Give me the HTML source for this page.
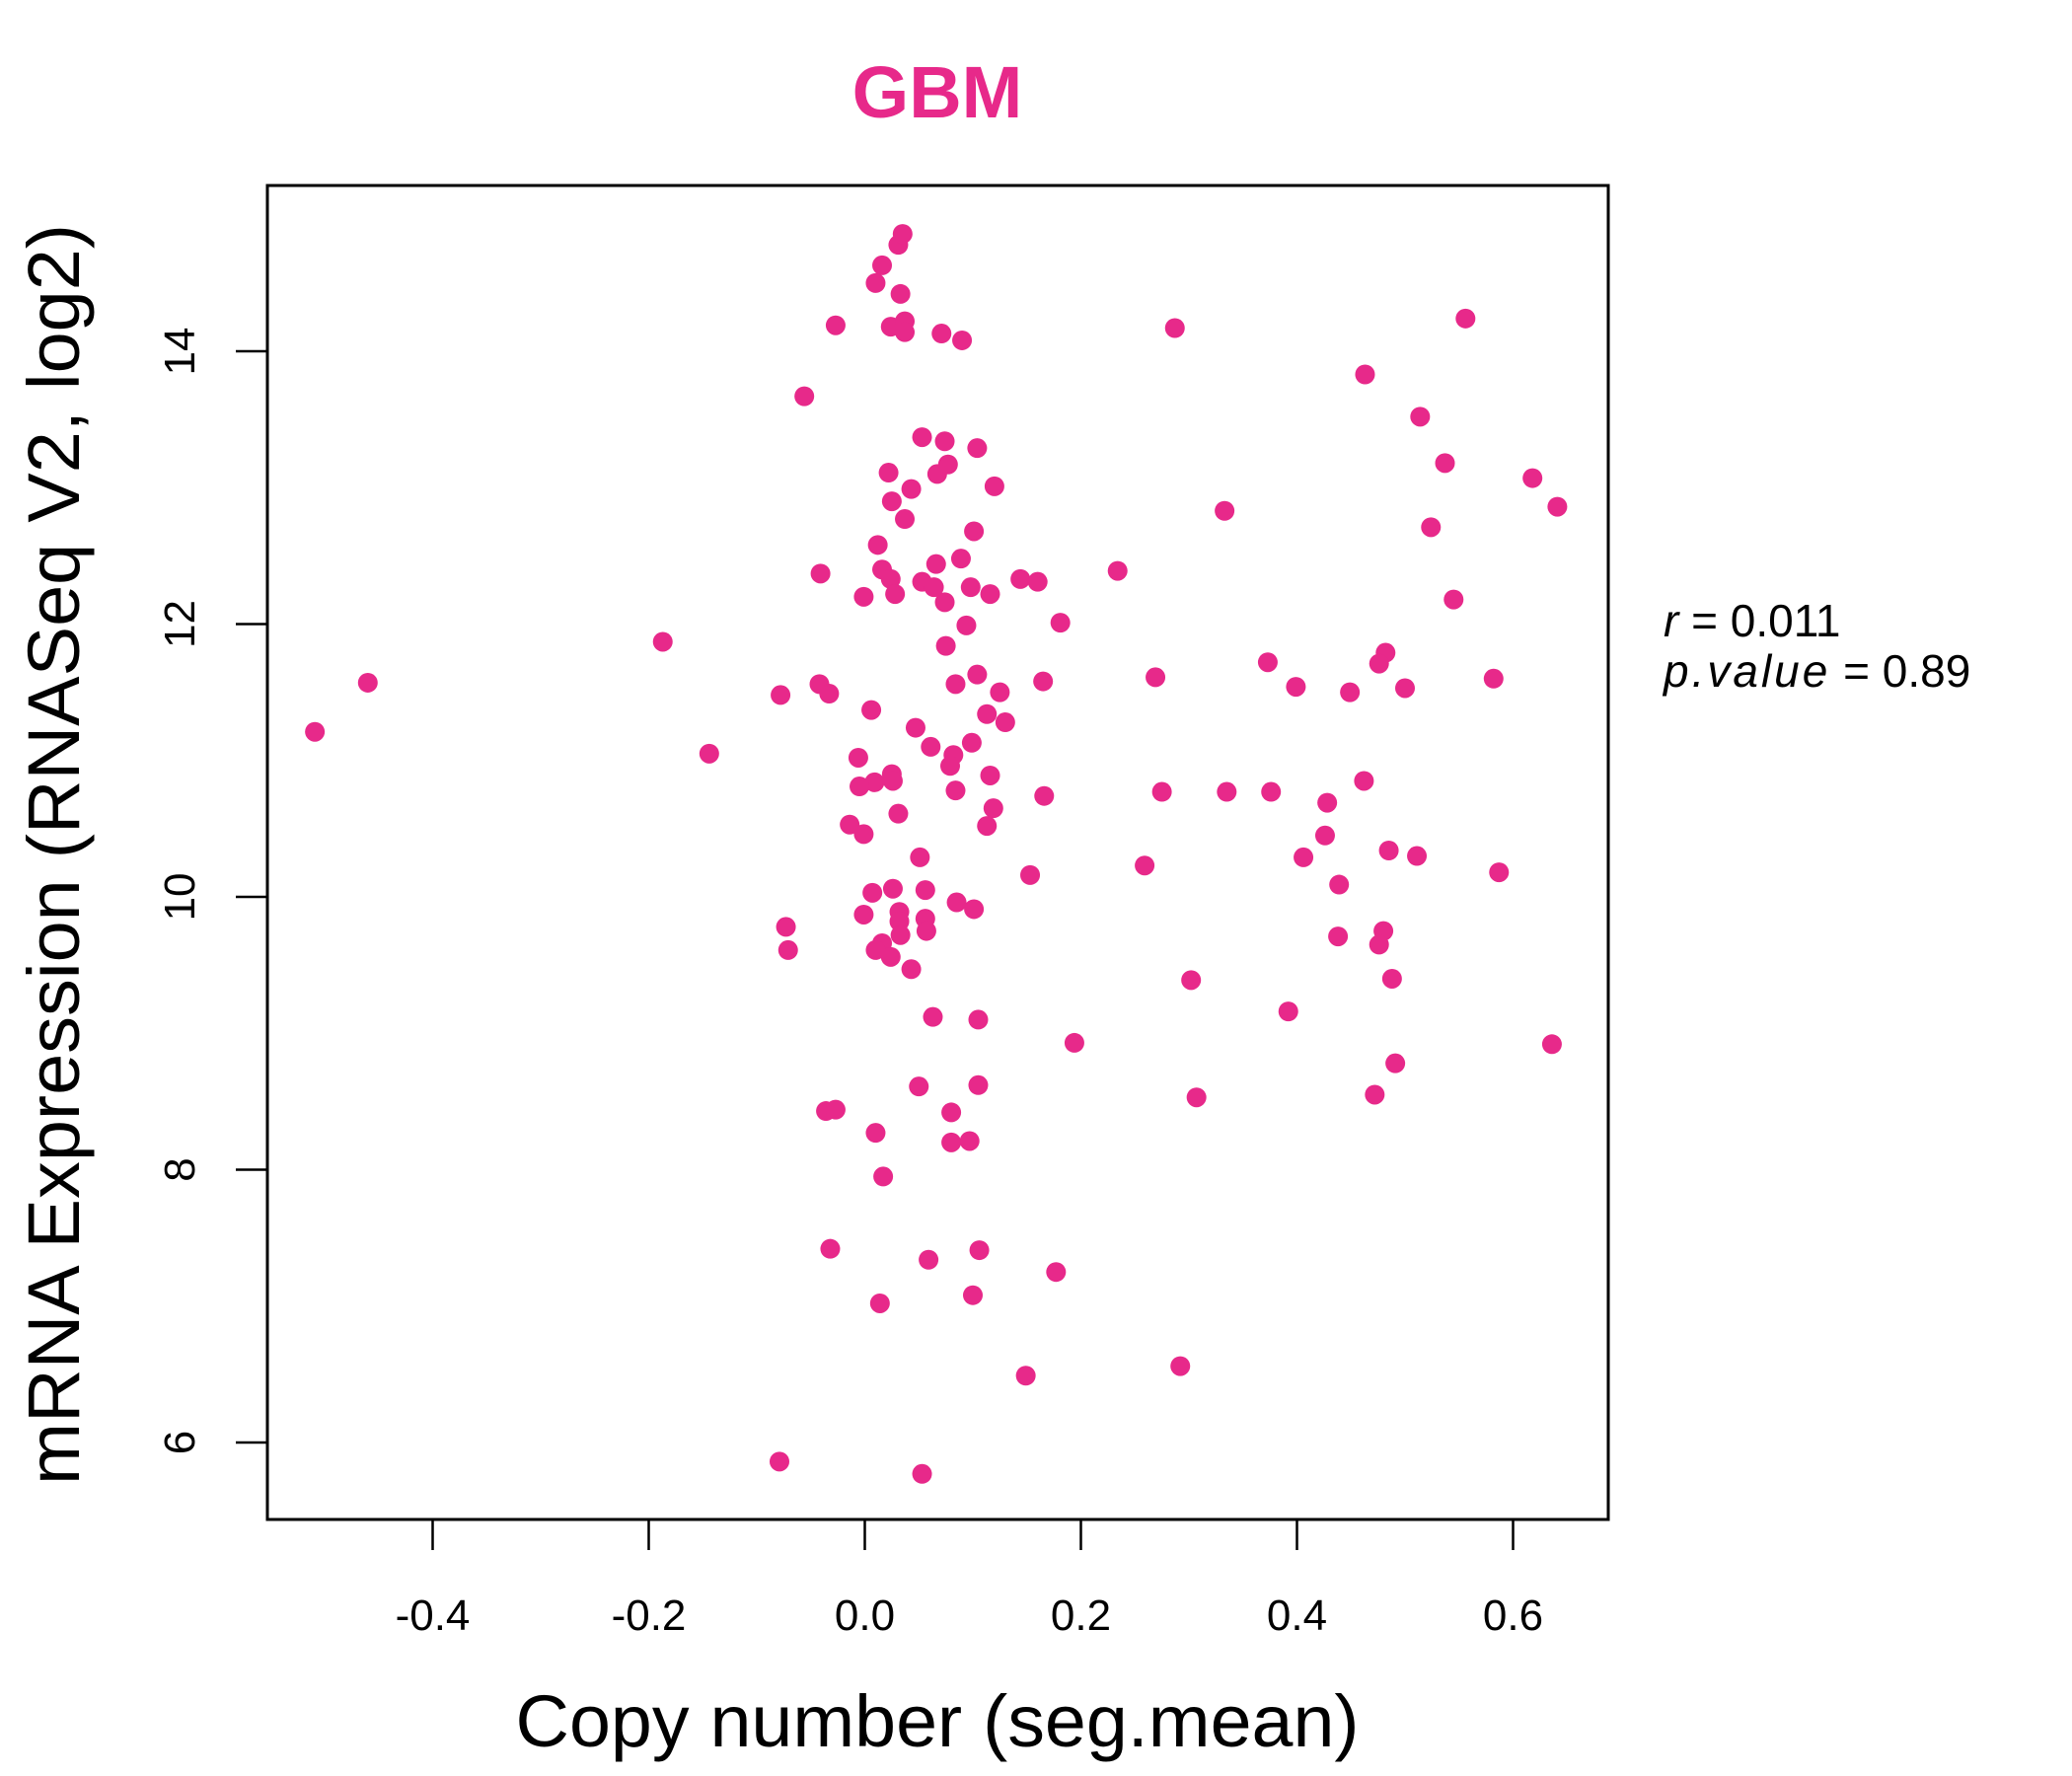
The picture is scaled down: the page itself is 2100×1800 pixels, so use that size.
<!DOCTYPE html>
<html><head><meta charset="utf-8"><style>
html,body{margin:0;padding:0;background:#fff;}
svg{display:block;font-family:"Liberation Sans",Arial,sans-serif;}
</style></head><body>
<svg id="chart" width="2100" height="1800" viewBox="0 0 2100 1800" xmlns="http://www.w3.org/2000/svg">
<rect width="2100" height="1800" fill="#fff"/>
<text x="950" y="119" text-anchor="middle" font-size="74" font-weight="bold" fill="#E7298A">GBM</text>
<rect x="271" y="188" width="1359" height="1352" fill="none" stroke="#000" stroke-width="3"/>
<g id="xaxis"></g>
<g id="yaxis"></g>
<g id="points"></g>
<text x="950" y="1770" text-anchor="middle" font-size="74" textLength="855" lengthAdjust="spacingAndGlyphs">Copy number (seg.mean)</text>
<text transform="translate(80,866) rotate(-90)" text-anchor="middle" font-size="74" textLength="1278" lengthAdjust="spacingAndGlyphs">mRNA Expression (RNASeq V2, log2)</text>
<text x="1686" y="645" font-size="46"><tspan font-style="italic">r</tspan> = 0.011</text>
<text x="1686" y="696" font-size="46"><tspan font-style="italic" letter-spacing="3">p.value</tspan> = 0.89</text>
</svg>
<script>
const xTicks = [-0.4,-0.2,0.0,0.2,0.4,0.6];
const xTickLabels = ["-0.4","-0.2","0.0","0.2","0.4","0.6"];
const yTicks = [6,8,10,12,14];
const yTickLabels = ["6","8","10","12","14"];
const copyNumber = [-0.509,-0.460,-0.187,-0.144,-0.078,-0.073,-0.071,-0.079,-0.056,-0.027,-0.041,-0.042,-0.033,-0.036,-0.027,-0.032,0.010,0.016,0.031,0.035,0.033,0.024,0.037,0.037,0.071,0.090,0.053,0.074,0.104,0.022,0.067,0.077,0.043,0.120,0.025,0.037,0.101,0.012,0.066,0.089,0.016,0.024,0.053,0.064,0.028,-0.001,0.098,0.116,0.074,0.144,0.160,0.234,0.094,0.181,0.075,0.104,0.084,0.125,0.165,0.006,0.113,0.130,0.047,0.061,0.099,0.082,0.079,-0.006,0.025,0.026,0.009,-0.005,0.116,0.084,0.166,0.031,0.119,0.113,-0.014,-0.001,0.051,0.153,0.056,0.007,0.026,0.085,0.101,-0.001,0.032,0.032,0.056,0.033,0.057,0.016,0.010,0.024,0.043,0.063,0.105,0.194,0.050,0.105,0.080,0.010,0.080,0.097,0.017,0.059,0.106,0.177,0.100,0.014,0.149,0.053,0.287,0.333,0.269,0.275,0.259,0.302,0.307,0.292,0.373,0.399,0.449,0.335,0.376,0.428,0.426,0.406,0.439,0.438,0.392,0.463,0.514,0.537,0.524,0.556,0.545,0.482,0.476,0.500,0.462,0.485,0.511,0.480,0.476,0.488,0.491,0.472,0.582,0.587,0.618,0.641,0.636];
const expression = [11.21,11.57,11.87,11.05,11.48,9.78,9.61,5.86,13.67,14.19,12.37,11.56,11.49,8.43,8.44,7.42,14.50,14.63,14.78,14.86,14.42,14.18,14.22,14.14,14.13,14.08,13.37,13.34,13.29,13.11,13.10,13.17,12.99,13.01,12.90,12.77,12.68,12.58,12.44,12.48,12.40,12.33,12.31,12.27,12.22,12.20,12.27,12.22,12.16,12.33,12.31,12.39,11.99,12.01,11.84,11.63,11.56,11.50,11.58,11.37,11.34,11.28,11.24,11.10,11.13,11.04,10.96,11.02,10.90,10.85,10.84,10.81,10.89,10.78,10.74,10.61,10.65,10.52,10.53,10.46,10.29,10.16,10.05,10.03,10.06,9.96,9.91,9.87,9.89,9.82,9.84,9.72,9.75,9.66,9.61,9.56,9.47,9.12,9.10,8.93,8.61,8.62,8.42,8.27,8.20,8.21,7.95,7.34,7.41,7.25,7.08,7.02,6.49,5.77,14.17,12.83,11.61,10.77,10.23,9.39,8.53,6.56,11.72,11.54,11.50,10.77,10.77,10.69,10.45,10.29,10.09,9.71,9.16,13.83,13.52,13.18,12.71,14.24,12.18,11.79,11.71,11.53,10.85,10.34,10.30,9.75,9.65,9.40,8.78,8.55,11.60,10.18,13.07,12.86,8.92];

const NS = "http://www.w3.org/2000/svg";
function xScale(v){ return 876.5 + v*1095; }
function yScale(v){ return 1462 - (v-6)*138.25; }
function mk(tag, attrs){ const e=document.createElementNS(NS,tag); for(const k in attrs) e.setAttribute(k,attrs[k]); return e; }

const xg = document.getElementById('xaxis');
xTicks.forEach((t,i)=>{
  const x = xScale(t);
  const l = mk('line',{x1:x,x2:x,y1:1540,y2:1571,stroke:'#000','stroke-width':2.5});
  
  
  xg.appendChild(l);
  const tx = mk('text',{x:x,y:1652,'text-anchor':'middle','font-size':44});
  
  
  tx.textContent = xTickLabels[i];
  xg.appendChild(tx);
});
const yg = document.getElementById('yaxis');
yTicks.forEach((t,i)=>{
  const y = yScale(t);
  const l = mk('line',{x1:239,x2:271,y1:y,y2:y,stroke:'#000','stroke-width':2.5});
  
  
  yg.appendChild(l);
  const tx = mk('text',{transform:`translate(197,${y}) rotate(-90)`,'text-anchor':'middle','font-size':44});
  
  
  tx.textContent = yTickLabels[i];
  yg.appendChild(tx);
});
const pg = document.getElementById('points');
copyNumber.forEach((v,i)=>{
  const c = mk('circle',{cx:xScale(v),cy:yScale(expression[i]),r:10,fill:'#E7298A'});
  
  
  pg.appendChild(c);
});
</script>
</body></html>
